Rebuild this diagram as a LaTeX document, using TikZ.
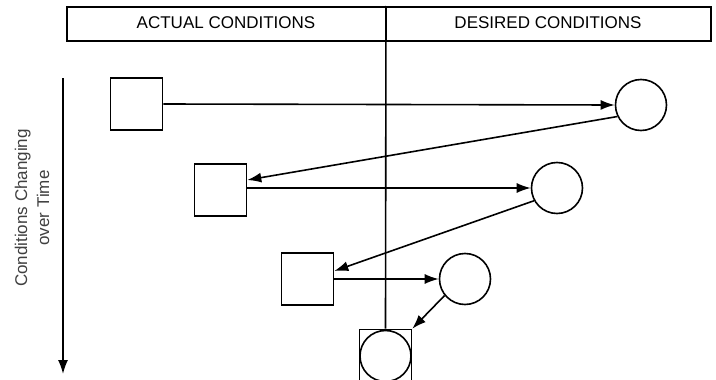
\documentclass[tikz,border=0pt]{standalone}
\usepackage{fontspec}
\setmainfont{Liberation Sans}
\usetikzlibrary{arrows.meta}
\begin{document}
\begin{tikzpicture}[x=1pt,y=-1pt,
  line width=1.6pt,
  sq/.style={draw, line width=1.6pt, minimum width=52pt, minimum height=52pt, inner sep=0pt, fill=white},
  cir/.style={draw, circle, line width=1.6pt, minimum size=51pt, inner sep=0pt, fill=white},
  hdr/.style={font=\fontsize{17}{20}\selectfont, anchor=center},
  flow/.style={line width=1.6pt, -{Latex[length=14pt,width=10pt]}},
  plain/.style={line width=1.6pt}
]
\useasboundingbox (0,0) rectangle (716,380);
\clip (0,0) rectangle (716,380);
\fill[white] (0,0) rectangle (716,380);

% header
\node[draw, line width=1.6pt, minimum width=644pt, minimum height=34pt, inner sep=0pt, anchor=north west] (H) at (66,6) {};
\node[hdr] (HA) at (226,23) {ACTUAL CONDITIONS};
\node[hdr] (HD) at (548,23) {DESIRED CONDITIONS};

% nodes
\node[sq] (S1) at (136.5,104) {};
\node[cir] (C1) at (641,105) {};
\node[sq] (S2) at (220.5,190) {};
\node[cir] (C2) at (557,188) {};
\node[sq] (S3) at (307.5,279) {};
\node[cir] (C3) at (465,279) {};
\node[sq] (S4) at (385.5,355.5) {};
\node[cir] (C4) at (385.5,356) {};

% divider line
\coordinate (Dtop) at (386,6);
\draw[plain] (Dtop) -- (S4.north);

% time arrow
\coordinate (T1) at (63,78);
\coordinate (T2) at (63,374);
\draw[flow] (T1) -- (T2);
\node[rotate=90, align=center, text=black!75, font=\fontsize{17}{22}\selectfont] (TL) at (32,208) {Conditions Changing\\over Time};

% flows
\draw[flow] (S1.east) -- (C1.west);
\draw[flow] (C1.206) -- ([yshift=10pt]S2.east);
\draw[flow] ([yshift=2pt]S2.east) -- (C2.west);
\draw[flow] (C2.209) -- ([yshift=8pt]S3.east);
\draw[flow] (S3.east) -- (C3.west);
\draw[flow] (C3.219) -- (S4.north east);
\end{tikzpicture}
\end{document}
